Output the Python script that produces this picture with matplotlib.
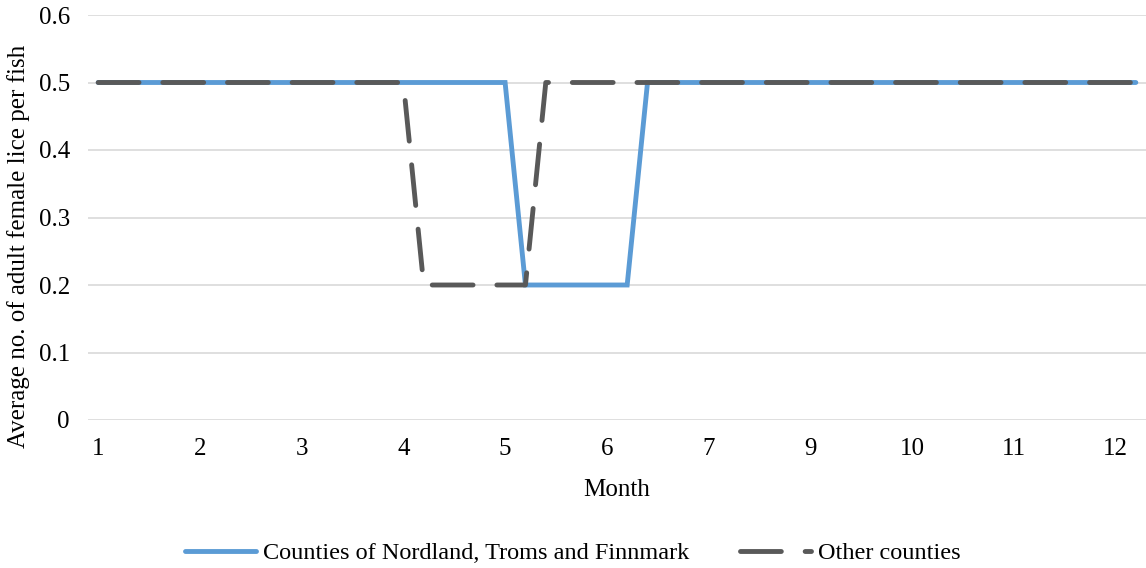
import matplotlib
matplotlib.use("Agg")
import matplotlib.pyplot as plt

# Week-by-week month category (52 weeks)
week_month = [1, 1, 1, 1, 2, 2, 2, 2, 3, 3, 3, 3, 3,
              4, 4, 4, 4, 5, 5, 5, 5, 5, 6, 6, 6, 6,
              7, 7, 7, 7, 7, 8, 8, 8, 8, 9, 9, 9, 9,
              10, 10, 10, 10, 10, 11, 11, 11, 11, 12, 12, 12, 12]

north = [0.5, 0.5, 0.5, 0.5, 0.5, 0.5, 0.5, 0.5, 0.5, 0.5, 0.5, 0.5, 0.5,
         0.5, 0.5, 0.5, 0.5, 0.5, 0.5, 0.5, 0.5, 0.2, 0.2, 0.2, 0.2, 0.2,
         0.2, 0.5, 0.5, 0.5, 0.5, 0.5, 0.5, 0.5, 0.5, 0.5, 0.5, 0.5, 0.5,
         0.5, 0.5, 0.5, 0.5, 0.5, 0.5, 0.5, 0.5, 0.5, 0.5, 0.5, 0.5, 0.5]

other = [0.5, 0.5, 0.5, 0.5, 0.5, 0.5, 0.5, 0.5, 0.5, 0.5, 0.5, 0.5, 0.5,
         0.5, 0.5, 0.5, 0.2, 0.2, 0.2, 0.2, 0.2, 0.2, 0.5, 0.5, 0.5, 0.5,
         0.5, 0.5, 0.5, 0.5, 0.5, 0.5, 0.5, 0.5, 0.5, 0.5, 0.5, 0.5, 0.5,
         0.5, 0.5, 0.5, 0.5, 0.5, 0.5, 0.5, 0.5, 0.5, 0.5, 0.5, 0.5, 0.5]

series_names = ["Counties of Nordland, Troms and Finnmark", "Other counties"]
y_ticks = [0, 0.1, 0.2, 0.3, 0.4, 0.5, 0.6]
label_every = 5

plt.rcParams['font.family'] = ['Liberation Serif', 'DejaVu Serif']
fs = 18
fs_leg = 17.5

fig = plt.figure(figsize=(11.46, 5.68), dpi=100)
ax = fig.add_axes([88/1146, 1-420/568, 1-88/1146, (420-15)/568])

x = list(range(len(week_month)))
ax.plot(x, north, color='#5B9BD5', lw=3.5, solid_capstyle='round',
        solid_joinstyle='miter', label=series_names[0], zorder=3)
ax.plot(x, other, color='#595959', lw=3.5, linestyle=(0, (8.4, 4.9)),
        dash_capstyle='round', label=series_names[1], zorder=4)

ax.set_xlim(-0.5, len(x) - 0.5)
ax.set_ylim(0, 0.6)
ax.set_yticks(y_ticks)
ax.set_yticklabels([f"{v:g}" for v in y_ticks], fontsize=fs)
tick_pos = x[::label_every]
ax.set_xticks(tick_pos)
ax.set_xticklabels([str(week_month[i]) for i in tick_pos], fontsize=fs)
ax.tick_params(axis='both', length=0)
ax.tick_params(axis='y', pad=13)
ax.tick_params(axis='x', pad=13)
ax.grid(axis='y', color='#D9D9D9', lw=1.2, zorder=0)
for s in ax.spines.values():
    s.set_visible(False)

ax.set_xlabel("Month", fontsize=fs, labelpad=14)
ax.set_ylabel("Average no. of adult female lice per fish", fontsize=fs)
ax.yaxis.set_label_coords(-(88 - 30) / (1146 - 88), 1 - (246 - 15) / (420 - 15))

fig.legend(loc='center', bbox_to_anchor=(0.5, 1 - 553/568), ncol=2, frameon=False,
           fontsize=fs_leg, handlelength=2.9, handletextpad=0.3, columnspacing=2.1)

fig.savefig("out.png", dpi=100)
